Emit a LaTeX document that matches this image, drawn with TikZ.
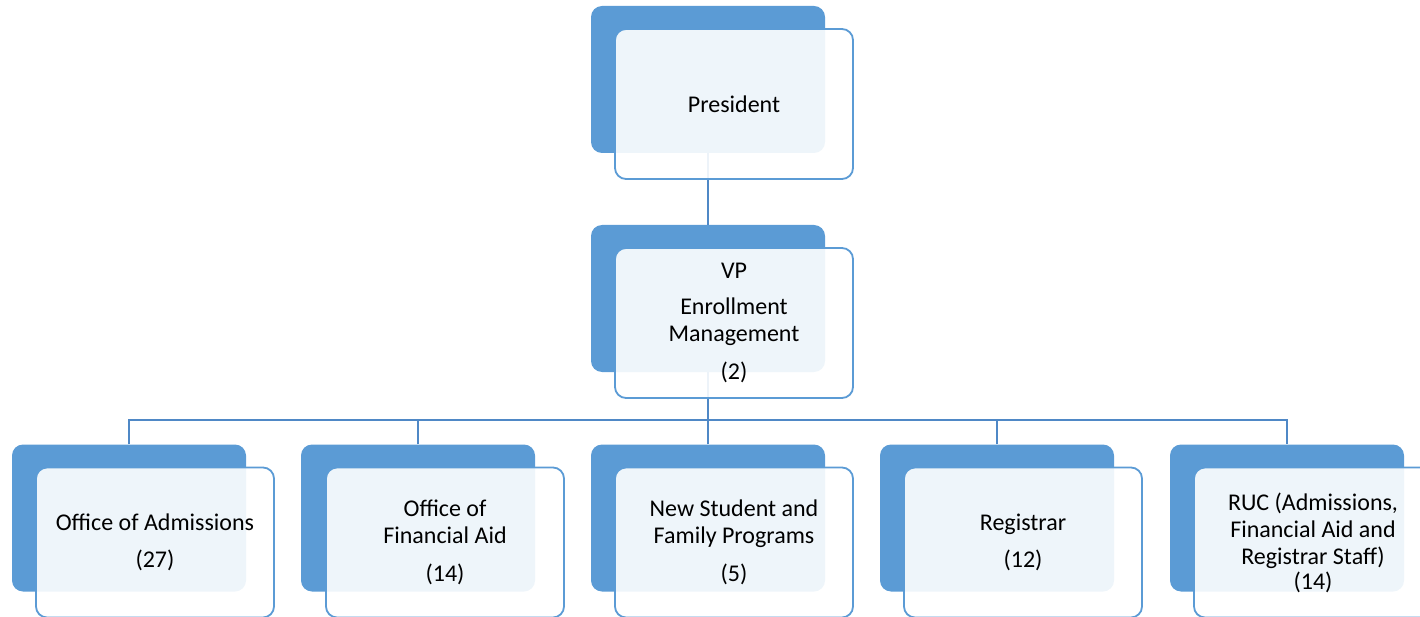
\documentclass[tikz,border=0pt]{standalone}
\usepackage{fontspec}
\setmainfont{Carlito}
\definecolor{accent}{HTML}{5B9BD5}
\definecolor{conn}{HTML}{4F88C6}
\begin{document}
\begin{tikzpicture}[x=1pt,y=-1pt,
  back/.style={rectangle, rounded corners=11pt, fill=accent, draw=none, minimum width=234pt, minimum height=147pt, inner sep=0pt},
  front/.style={rectangle, rounded corners=11pt, fill=white, fill opacity=0.9, text opacity=1, draw=accent, line width=1.8pt, minimum width=238pt, minimum height=150pt, inner sep=0pt, align=center, font=\fontsize{24}{27}\selectfont, text=black},
  link/.style={draw=conn, line width=2pt}]
\useasboundingbox (0,0) rectangle (1420,617);
% back boxes
\node[back] (p) at (708,79.5) {};
\node[back] (vp) at (708,298.5) {};
\node[back] (a1) at (129,518) {};
\node[back] (a2) at (418,518) {};
\node[back] (a3) at (708,518) {};
\node[back] (a4) at (997,518) {};
\node[back] (a5) at (1287,518) {};
% connectors
\coordinate (bus) at (708,420);
\draw[link] (p.south) -- (vp.north);
\draw[link] (vp.south) -- (vp.south |- bus);
\draw[link] (a1.north) -- (a1.north |- bus) -- (a5.north |- bus) -- (a5.north);
\draw[link] (a2.north) -- (a2.north |- bus);
\draw[link] (a3.north) -- (a3.north |- bus);
\draw[link] (a4.north) -- (a4.north |- bus);
% front boxes
\node[front] (pf) at (734,104) {President};
\node[front] (vpf) at (734,323) {VP\\[9pt]Enrollment\\Management\\[11pt](2)};
\node[front] (a1f) at (155,542.5) {Office of Admissions\\[10pt](27)};
\node[front] (a2f) at (445,542.5) {Office of\\Financial Aid\\[11pt](14)};
\node[front] (a3f) at (734,542.5) {New Student and\\Family Programs\\[11pt](5)};
\node[front] (a4f) at (1023,542.5) {Registrar\\[10pt](12)};
\node[front] (a5f) at (1313,542.5) {RUC (Admissions,\\Financial Aid and\\Registrar Staff)\\[-2pt](14)};
\end{tikzpicture}
\end{document}
